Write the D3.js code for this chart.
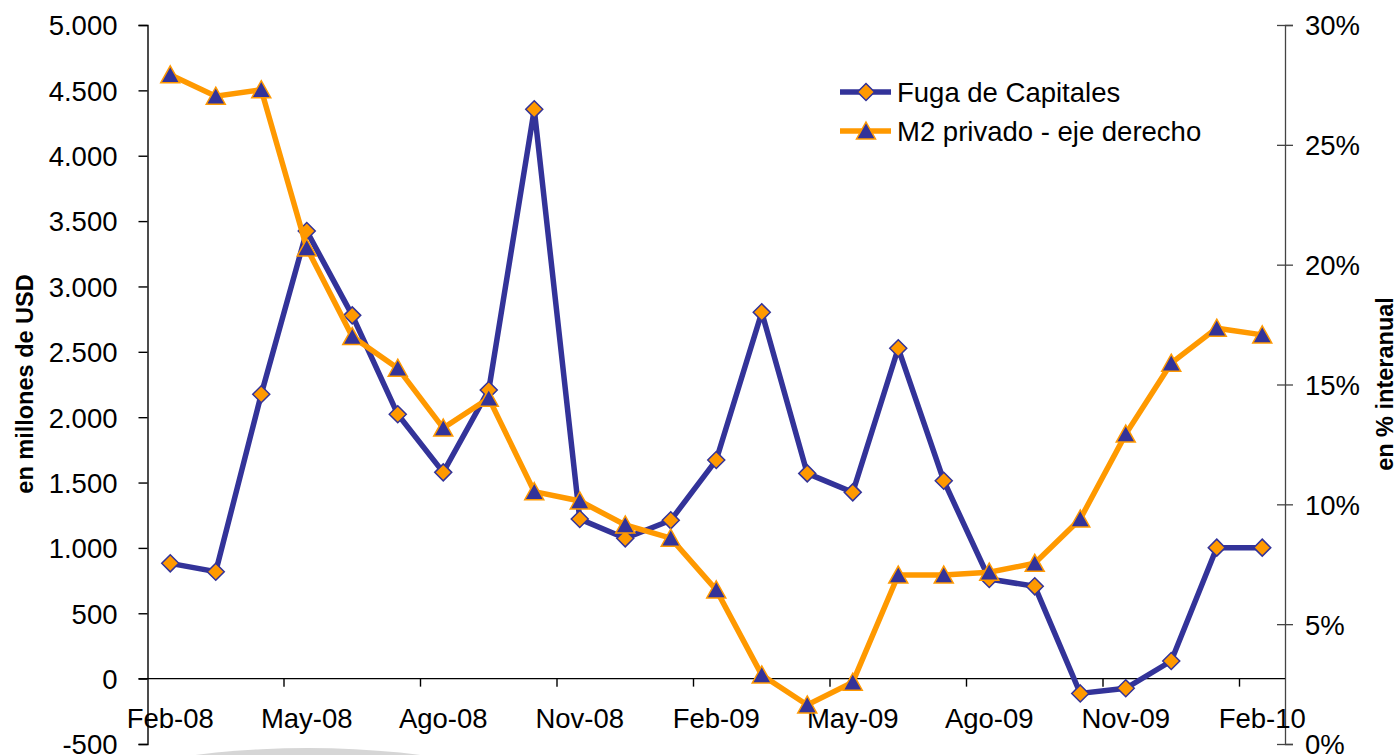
<!DOCTYPE html>
<html>
<head>
<meta charset="utf-8">
<script src="https://cdn.jsdelivr.net/npm/d3@7"></script>
<style>
  html, body { margin: 0; padding: 0; background: #fff; }
  svg { display: block; font-family: "Liberation Sans", Arial, sans-serif; }
</style>
</head>
<body>
<svg id="chart" width="1396" height="755"></svg>
<script>
const categories = ["Feb-08","Mar-08","Abr-08","May-08","Jun-08","Jul-08","Ago-08","Sep-08","Oct-08","Nov-08","Dic-08","Ene-09",
  "Feb-09","Mar-09","Abr-09","May-09","Jun-09","Jul-09","Ago-09","Sep-09","Oct-09","Nov-09","Dic-09","Ene-10","Feb-10"];
const fugaCapitales = [882, 818, 2175, 3424, 2779, 2022, 1578, 2208, 4355, 1221, 1073, 1211,
  1672, 2802, 1570, 1425, 2527, 1514, 762, 706, -113, -74, 135, 1002, 1002];
const m2Privado = [27.92, 27.03, 27.30, 20.70, 17.00, 15.68, 13.18, 14.43, 10.53, 10.14, 9.14, 8.59,
  6.43, 2.88, 1.63, 2.58, 7.05, 7.05, 7.17, 7.54, 9.39, 12.93, 15.89, 17.35, 17.07];
const leftTicks = [-500, 0, 500, 1000, 1500, 2000, 2500, 3000, 3500, 4000, 4500, 5000];
const rightTicks = [0, 5, 10, 15, 20, 25, 30];
const shownLabels = ["Feb-08","May-08","Ago-08","Nov-08","Feb-09","May-09","Ago-09","Nov-09","Feb-10"];
const seriesNames = ["Fuga de Capitales", "M2 privado - eje derecho"];
const leftTitle = "en millones de USD";
const rightTitle = "en % interanual";

const NAVY = "#333399", ORANGE = "#FF9900";
const svg = d3.select("#chart");
const plot = { left: 147.5, right: 1285, top: 25, bottom: 744 };

// decorative grey arc at the bottom
svg.append("ellipse").attr("cx", 308).attr("cy", 808).attr("rx", 240).attr("ry", 60)
  .attr("fill", "#d6d6d6");

const x = d3.scaleBand().domain(categories).range([plot.left, plot.right]).padding(0);
const yL = d3.scaleLinear().domain([-500, 5000]).range([plot.bottom, plot.top]);
const yR = d3.scaleLinear().domain([0, 30]).range([plot.bottom, plot.top]);
const cx = d => x(d) + x.bandwidth() / 2;

const fmtThousands = v => d3.format(",")(v).replace(/,/g, ".").replace(/\u2212/g, "-");

// left axis
const gL = svg.append("g").attr("transform", `translate(${plot.left},0)`)
  .call(d3.axisLeft(yL).tickValues(leftTicks).tickSize(9).tickPadding(21).tickFormat(fmtThousands));
gL.select(".domain").attr("stroke", "#000").attr("stroke-width", 1.4);
gL.selectAll(".tick line").attr("stroke", "#000").attr("stroke-width", 1.4);
gL.selectAll(".tick text").attr("font-size", 27.5).attr("fill", "#000")
  .attr("font-family", "Liberation Sans, Arial, sans-serif").attr("dy", "0.36em");

// right axis
const gR = svg.append("g").attr("transform", `translate(${plot.right},0)`)
  .call(d3.axisRight(yR).tickValues(rightTicks).tickSize(8).tickPadding(12).tickFormat(d => d + "%"));
gR.select(".domain").attr("stroke", "#444").attr("stroke-width", 1.3);
gR.selectAll(".tick line").attr("stroke", "#444").attr("stroke-width", 1.3).attr("x1", -8);
gR.selectAll(".tick text").attr("font-size", 27.5).attr("fill", "#000")
  .attr("font-family", "Liberation Sans, Arial, sans-serif").attr("dy", "0.36em");

// category axis at zero
const y0 = yL(0);
svg.append("line").attr("x1", plot.left - 9).attr("x2", plot.right).attr("y1", y0).attr("y2", y0)
  .attr("stroke", "#000").attr("stroke-width", 1.4);
categories.forEach((c, i) => {
  if (i % 3 === 0 && i > 0) {
    svg.append("line").attr("x1", x(c)).attr("x2", x(c)).attr("y1", y0).attr("y2", y0 + 8)
      .attr("stroke", "#000").attr("stroke-width", 1.4);
  }
});
svg.append("g").selectAll("text").data(shownLabels).join("text")
  .attr("x", d => cx(d)).attr("y", 728).attr("text-anchor", "middle")
  .attr("font-size", 27.5).attr("fill", "#000").text(d => d);

// axis titles
svg.append("text").attr("transform", "translate(33,384) rotate(-90)").attr("text-anchor", "middle")
  .attr("font-size", 23.5).attr("font-weight", "bold").attr("fill", "#000").text(leftTitle);
svg.append("text").attr("transform", "translate(1393,384) rotate(-90)").attr("text-anchor", "middle")
  .attr("font-size", 23.5).attr("font-weight", "bold").attr("fill", "#000").text(rightTitle);

// markers
const diamond = "M0,-8.5L8.5,0L0,8.5L-8.5,0Z";
const triangle = "M0,-9L9.5,8L-9.5,8Z";

// Fuga de capitales
const fugaData = categories.map((c, i) => ({ c, v: fugaCapitales[i] }));
svg.append("path").datum(fugaData)
  .attr("d", d3.line().x(d => cx(d.c)).y(d => yL(d.v)))
  .attr("fill", "none").attr("stroke", NAVY).attr("stroke-width", 5.5).attr("stroke-linejoin", "miter");
svg.append("g").selectAll("path").data(fugaData).join("path")
  .attr("transform", d => `translate(${cx(d.c)},${yL(d.v)})`)
  .attr("d", diamond).attr("fill", ORANGE).attr("stroke", NAVY).attr("stroke-width", 1.5);

// M2 privado
const m2Data = categories.map((c, i) => ({ c, v: m2Privado[i] }));
svg.append("path").datum(m2Data)
  .attr("d", d3.line().x(d => cx(d.c)).y(d => yR(d.v)))
  .attr("fill", "none").attr("stroke", ORANGE).attr("stroke-width", 5.5).attr("stroke-linejoin", "miter");
svg.append("g").selectAll("path").data(m2Data).join("path")
  .attr("transform", d => `translate(${cx(d.c)},${yR(d.v)})`)
  .attr("d", triangle).attr("fill", NAVY).attr("stroke", ORANGE).attr("stroke-width", 1.5);

// legend
const legend = svg.append("g");
const legRows = [
  { name: seriesNames[0], line: NAVY, fill: ORANGE, stroke: NAVY, shape: diamond, y: 92 },
  { name: seriesNames[1], line: ORANGE, fill: NAVY, stroke: ORANGE, shape: triangle, y: 131 }
];
legRows.forEach(r => {
  legend.append("line").attr("x1", 840).attr("x2", 891).attr("y1", r.y).attr("y2", r.y)
    .attr("stroke", r.line).attr("stroke-width", 5.5);
  legend.append("path").attr("transform", `translate(866,${r.y})`).attr("d", r.shape)
    .attr("fill", r.fill).attr("stroke", r.stroke).attr("stroke-width", 1.5);
  legend.append("text").attr("x", 897).attr("y", r.y).attr("dy", "0.36em")
    .attr("font-size", 27.5).attr("fill", "#000").text(r.name);
});
</script>
</body>
</html>
